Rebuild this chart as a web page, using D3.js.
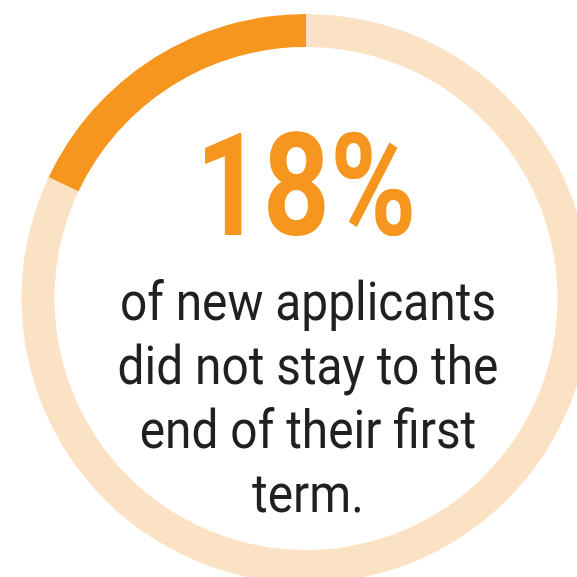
<!DOCTYPE html>
<html>
<head>
<meta charset="utf-8">
<script src="https://cdn.jsdelivr.net/npm/d3@7"></script>
<style>
  html, body { margin: 0; padding: 0; background: #fff; overflow: hidden; }
</style>
</head>
<body>
<script>
var width = 577, height = 577;

// data
var labels = ["did not stay", "stayed"];
var values = [18, 82];
var colors = ["#F7961F", "#FCE2C4"];
var bigLabel = "18%";
var lines = ["of new applicants", "did not stay to the", "end of their first", "term."];

var svg = d3.select("body").append("svg")
    .attr("width", width).attr("height", height);

var cx = 306, cy = 298.5;

var pie = d3.pie().sort(null).startAngle(0).endAngle(-2 * Math.PI);
var arc = d3.arc().innerRadius(251.5).outerRadius(284.5);

var ring = svg.append("g").attr("transform", "translate(" + cx + "," + cy + ")");
ring.selectAll("path")
    .data(pie(values))
    .enter().append("path")
    .attr("d", arc)
    .attr("fill", function (d, i) { return colors[i]; });

// big percentage, squeezed to a condensed look
var big = svg.append("g").attr("transform", "translate(" + cx + ",235)");
var bigTxt = big.append("text")
    .attr("text-anchor", "middle")
    .style("font-family", "Roboto")
    .style("font-weight", "700")
    .style("font-size", "142px")
    .attr("fill", colors[0])
    .text(bigLabel);
var bw = bigTxt.node().getBBox().width;
bigTxt.attr("transform", "scale(" + (221 / bw) + ",1)");

// caption lines (condensed by a horizontal squeeze)
var cap = svg.append("g").attr("transform", "translate(" + cx + ",0)");
var capTxt = cap.selectAll("text")
    .data(lines)
    .enter().append("text")
    .attr("text-anchor", "middle")
    .attr("y", function (d, i) { return 320 + i * 64; })
    .style("font-family", "Roboto")
    .style("font-weight", "400")
    .style("font-size", "54px")
    .attr("fill", "#231F20")
    .text(function (d) { return d; });
var lw = capTxt.filter(function (d, i) { return i == 1; }).node().getBBox().width;
cap.attr("transform", "translate(" + (cx + 2) + ",0) scale(" + (381 / lw) + ",1)");
</script>
</body>
</html>
